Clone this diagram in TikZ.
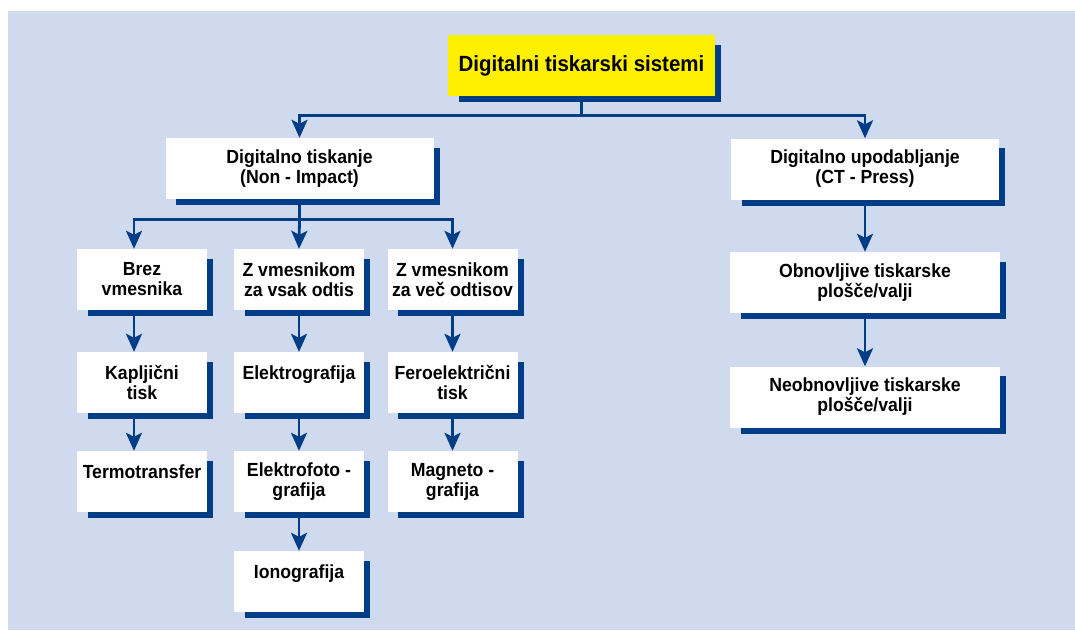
\documentclass[tikz,border=0pt]{standalone}
\usepackage{fontspec}
\setmainfont{Liberation Sans}[FakeStretch=0.93]
\usetikzlibrary{arrows.meta,backgrounds}
\definecolor{navy}{RGB}{0,61,135}
\definecolor{paleblue}{RGB}{208,218,238}
\definecolor{signyellow}{RGB}{255,240,0}
\tikzset{
  box/.style={fill=white,inner sep=0pt,minimum height=61pt,align=center,
    font=\fontsize{19}{20}\selectfont\bfseries},
  smallbox/.style={box,minimum width=130pt},
  widebox/.style={box,minimum width=268pt},
  conn/.style={draw=navy,line width=2.8pt,-{Stealth[length=18pt,width=16pt,inset=4pt]}},
}
\begin{document}
\begin{tikzpicture}[x=1pt,y=-1pt,line join=miter]
\useasboundingbox (0,0) rectangle (1075,630);
% vrh
\node[widebox,fill=signyellow,minimum width=267pt,font=\fontsize{22}{24}\selectfont\bfseries] (top) at (581.5,65.5) {Digitalni tiskarski sistemi};
% druga vrsta
\node[widebox] (dt) at (299.5,168.5) {Digitalno tiskanje\\(Non - Impact)};
\node[widebox] (du) at (865,169) {Digitalno upodabljanje\\(CT - Press)};
% levi del
\node[smallbox] (brez) at (142,279.5) {Brez\\vmesnika};
\node[smallbox] (zvs) at (299,279.5) {Z vmesnikom\\za vsak odtis};
\node[smallbox] (zvv) at (452.5,279.5) {Z vmesnikom\\za več odtisov};
\node[smallbox] (kap) at (142,382.5) {Kapljični\\tisk};
\node[smallbox] (elg) at (299,382.5) {Elektrografija\\\mbox{}};
\node[smallbox] (fer) at (452.5,382.5) {Feroelektrični\\tisk};
\node[smallbox] (term) at (142,481.5) {Termotransfer\\\mbox{}};
\node[smallbox] (efoto) at (299,481.5) {Elektrofoto -\\grafija};
\node[smallbox] (magn) at (452.5,481.5) {Magneto -\\grafija};
\node[smallbox] (iono) at (299,581.5) {Ionografija\\\mbox{}};
% desni del
\node[box,minimum width=270pt] (obn) at (865,282.5) {Obnovljive tiskarske\\plošče/valji};
\node[box,minimum width=270pt] (neo) at (865,397) {Neobnovljive tiskarske\\plošče/valji};
% ozadje in sence
\begin{pgfonlayer}{background}
  \fill[paleblue] (8,11) rectangle (1075,630);
  \foreach \n in {top,dt,du,brez,zvs,zvv,kap,elg,fer,term,efoto,magn,iono,obn,neo}
    \fill[navy] ([xshift=11pt,yshift=-6pt]\n.south west) rectangle ([xshift=6pt,yshift=-10pt]\n.north east);
\end{pgfonlayer}
% povezave
\draw[navy,line width=2.8pt] (top.south) -- ++(0,19) coordinate (t1);
\draw[conn] (t1) -| (dt.north);
\draw[conn] (t1) -| (du.north);
\draw[navy,line width=2.8pt] (dt.south) -- ++(0,20) coordinate (d1);
\draw[conn] (d1) -| ([xshift=-8pt]brez.north);
\draw[conn] (d1) -- (zvs.north);
\draw[conn] (d1) -| (zvv.north);
\draw[conn] ([xshift=-8pt]brez.south) -- ([xshift=-8pt]kap.north);
\draw[conn] ([xshift=-8pt]kap.south) -- ([xshift=-8pt]term.north);
\draw[conn] (zvs) -- (elg);
\draw[conn] (elg) -- (efoto);
\draw[conn] (efoto) -- (iono);
\draw[conn] (zvv) -- (fer);
\draw[conn] (fer) -- (magn);
\draw[conn] (du) -- (obn);
\draw[conn] (obn) -- (neo);
\end{tikzpicture}
\end{document}
